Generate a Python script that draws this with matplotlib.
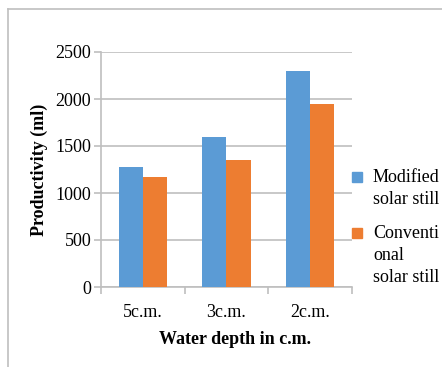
import matplotlib.pyplot as plt
from matplotlib.lines import Line2D
from matplotlib.patches import Rectangle
import numpy as np

# productivity of the two stills at each water depth
depths = ['5c.m.', '3c.m.', '2c.m.']
modified = [1275, 1595, 2295]
conventional = [1175, 1350, 1950]
series_names = ['Modified\nsolar still', 'Conventi\nonal\nsolar still']

blue = '#5b9bd5'
orange = '#ed7d31'
grey = '#bfbfbf'

plt.rcParams['font.family'] = ['Liberation Serif', 'DejaVu Serif']
fs = 13

fig = plt.figure(figsize=(4.42, 3.67), dpi=100)
ax = fig.add_axes([101 / 442, 1 - 287 / 367, 251 / 442, 235 / 367])

x = np.arange(len(depths))
w = 0.287
ax.bar(x - w / 2, modified, w, color=blue, edgecolor='none', zorder=3)
ax.bar(x + w / 2, conventional, w, color=orange, edgecolor='none', zorder=3)

ax.set_xlim(-0.5, len(depths) - 0.5)
ax.set_ylim(0, 2500)
ax.set_yticks(range(0, 2501, 500))
ax.yaxis.grid(True, color=grey, linewidth=1.2, zorder=0)
ax.set_axisbelow(True)

ax.set_xticks(x)
ax.set_xticklabels(depths, fontsize=fs)
ax.set_xticks(np.arange(-0.5, len(depths), 1.0), minor=True)
ax.tick_params(axis='x', which='major', length=0, pad=12)
ax.tick_params(axis='x', which='minor', length=5, color=grey, width=1.2)
ax.tick_params(axis='y', length=5, color=grey, width=1.2, labelsize=fs, pad=2)

for s in ['top', 'right']:
    ax.spines[s].set_visible(False)
for s in ['left', 'bottom']:
    ax.spines[s].set_color(grey)
    ax.spines[s].set_linewidth(1.2)

fig.text(235 / 442, 1 - 339 / 367, 'Water depth in c.m.', fontsize=fs,
         fontweight='bold', ha='center', va='center')
fig.text(39 / 442, 1 - 170 / 367, 'Productivity (ml)', fontsize=fs,
         fontweight='bold', ha='center', va='center', rotation=90)

# legend keys and labels on the right
key_rows = [177, 233]
for name, col, yk in zip(series_names, [blue, orange], key_rows):
    fig.patches.append(Rectangle((352 / 442, 1 - (yk + 5) / 367), 10 / 442, 10 / 367,
                                 transform=fig.transFigure, color=col))
    fig.text(373 / 442, 1 - (yk - 8) / 367, name, fontsize=fs, ha='left', va='top',
             linespacing=1.4)

# chart frame
fig.lines.append(Line2D([8 / 442, 8 / 442], [0, 1 - 9 / 367], transform=fig.transFigure,
                        color=grey, linewidth=1.2))
fig.lines.append(Line2D([8 / 442, 1], [1 - 9 / 367, 1 - 9 / 367], transform=fig.transFigure,
                        color=grey, linewidth=1.2))

fig.savefig('out.png', dpi=100)
